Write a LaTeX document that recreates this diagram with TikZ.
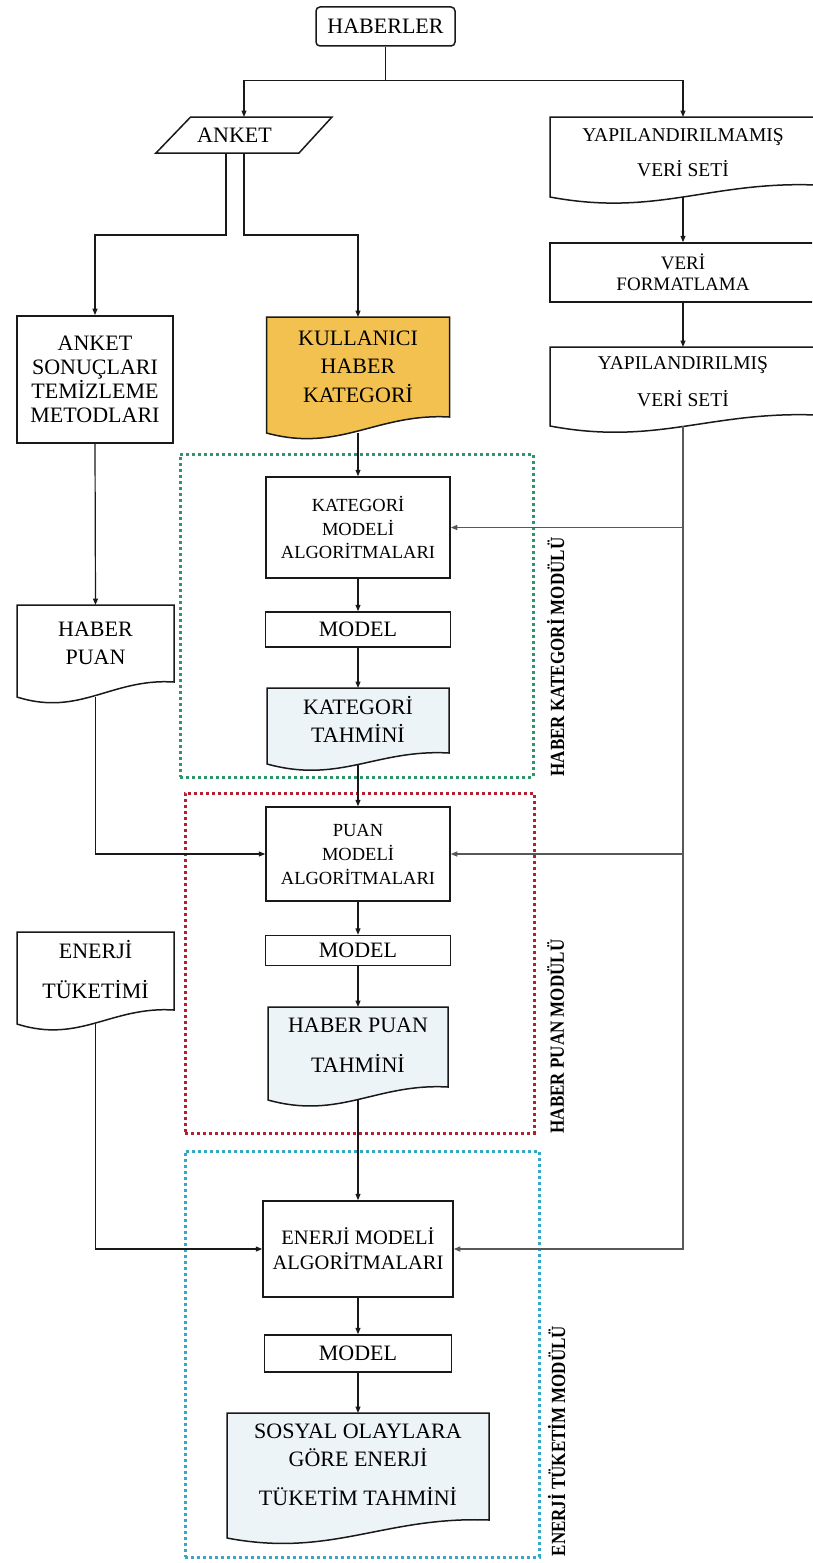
\documentclass[tikz,border=0pt]{standalone}
\usepackage{fontspec}
\setmainfont{Liberation Serif}
\usetikzlibrary{arrows.meta,calc,backgrounds}

\definecolor{kgreen}{RGB}{46,150,104}
\definecolor{kred}{RGB}{183,30,48}
\definecolor{kcyan}{RGB}{52,168,198}
\definecolor{kyellow}{RGB}{242,193,80}
\definecolor{kblue}{RGB}{237,244,248}
\definecolor{kgray}{RGB}{88,88,88}
\definecolor{kink}{RGB}{25,25,25}

\newcommand\setfs[2]{\fontsize{#1pt}{#2pt}\selectfont}
% module titles are set a little taller than the plain font
\newcommand\tallbf[1]{\scalebox{1}[1.18]{\bfseries #1}}

% document shape: flat top, wavy bottom that rises by #3 towards the right
\newcommand\docoutline[3]{%
  \draw[docline, fill=#1] (#2.south west)
    .. controls ($(#2.south west)!0.4!(#2.south east)+(0,20)$)
            and ($(#2.south west)!0.6!(#2.south east)+(0,-#3-4)$)
    .. ($(#2.south east)+(0,-#3)$)
    -- (#2.north east) -- (#2.north west) -- cycle;}

\begin{document}
\begin{tikzpicture}[x=1pt, y=-1pt,
  box/.style={draw=kink, line width=1.5pt, fill=white, inner sep=0pt,
    align=center, font=\setfs{22}{24}},
  plain/.style={draw=none, inner sep=0pt, outer sep=0pt, align=center, font=\setfs{22}{24}},
  doctext/.style={align=center, inner sep=0pt},
  docline/.style={draw=kink, line width=1.5pt},
  conn/.style={draw=kink, line width=1.2pt, -{Triangle[length=6.5pt,width=5pt]}},
  grayconn/.style={draw=kgray, line width=1.4pt, -{Triangle[length=6.5pt,width=5pt]}},
  frame/.style={line width=3pt, dash pattern=on 3pt off 3pt, inner sep=0pt, fill=none},
  modlabel/.style={font=\setfs{17}{17}, rotate=90, anchor=west, inner sep=0pt}]

\useasboundingbox (0,0) rectangle (812,1563);
\clip (0,0) rectangle (812,1563);

% ---- top ----
\node[box, rounded corners=4pt, minimum width=139pt, minimum height=39pt] (haberler) at (385.5,26.5) {HABERLER};
\node[plain, minimum width=176pt, minimum height=36pt] (anket) at (244,135) {\hspace*{-19pt}ANKET};

% ---- right column ----
\node[plain, minimum width=266pt, minimum height=80pt,
  label={[doctext, font=\setfs{19.5}{35}, yshift=4.5pt]center:{YAPILANDIRILMAMIŞ\\VERİ SETİ}}] (yapi1) at (683,157) {};
\node[box, minimum width=266pt, minimum height=59pt, font=\setfs{19}{20.5}] (verifmt) at (683,272.5) {VERİ\\FORMATLAMA};
\node[plain, minimum width=266pt, minimum height=79pt,
  label={[doctext, font=\setfs{19.5}{37}, yshift=5pt]center:{YAPILANDIRILMIŞ\\VERİ SETİ}}] (yapi2) at (683,386.5) {};

% ---- left column ----
\node[box, line width=1.8pt, minimum width=156pt, minimum height=127pt] (anketson) at (95,379.5) {ANKET\\SONUÇLARI\\TEMİZLEME\\METODLARI};
\node[plain, minimum width=157pt, minimum height=92pt,
  label={[doctext, font=\setfs{22}{28}, yshift=8pt]center:{HABER\\PUAN}}] (haberpuan) at (95.5,651) {};
\node[plain, minimum width=157pt, minimum height=92pt,
  label={[doctext, font=\setfs{22}{40}, yshift=8pt]center:{ENERJİ\\TÜKETİMİ}}] (enerjituk) at (95.5,978) {};

% ---- centre column ----
\node[plain, minimum width=183pt, minimum height=116pt,
  label={[doctext, font=\setfs{22}{28.5}, yshift=8.5pt]center:{KULLANICI\\HABER\\KATEGORİ}}] (kullanici) at (358,375) {};
\node[box, minimum width=184pt, minimum height=101pt, font=\setfs{18.5}{23.5}] (katmodel) at (358,527.5) {KATEGORİ\\MODELİ\\ALGORİTMALARI};
\node[box, minimum width=185pt, minimum height=35pt] (model1) at (358,629.5) {MODEL};
\node[plain, minimum width=182pt, minimum height=76pt,
  label={[doctext, font=\setfs{22}{28}, yshift=6.5pt]center:{KATEGORİ\\TAHMİNİ}}] (kattahmin) at (358,726) {};

\node[box, minimum width=184pt, minimum height=94pt, font=\setfs{18.5}{24}] (puanmodel) at (358,854) {PUAN\\MODELİ\\ALGORİTMALARI};
\node[box, minimum width=185pt, minimum height=30pt] (model2) at (358,950.5) {MODEL};
\node[plain, minimum width=180pt, minimum height=93pt,
  label={[doctext, font=\setfs{22}{40}, yshift=8pt]center:{HABER PUAN\\TAHMİNİ}}] (puantahmin) at (358,1053.5) {};

\node[box, minimum width=190pt, minimum height=96pt, font=\setfs{20.5}{25}] (enmodel) at (358,1249) {ENERJİ MODELİ\\ALGORİTMALARI};
\node[box, minimum width=187pt, minimum height=37pt] (model3) at (358,1353.5) {MODEL};
\node[plain, minimum width=262pt, minimum height=125pt,
  label={[doctext, font=\setfs{22}{28}, yshift=11pt]center:{SOSYAL OLAYLARA\\GÖRE ENERJİ\\[11pt]TÜKETİM TAHMİNİ}}] (sosyal) at (358,1475.5) {};

% ---- module frames and their titles ----
\node[frame, draw=kgreen, minimum width=353pt, minimum height=323pt] (katframe) at (356.5,615.5) {};
\node[frame, draw=kred, minimum width=349pt, minimum height=340pt] (puanframe) at (359.5,963) {};
\node[frame, draw=kcyan, minimum width=354pt, minimum height=406pt] (enframe) at (362,1354) {};

\node[modlabel] (katlabel) at ($(katframe.south east)+(21,-2)$) {\tallbf{HABER KATEGORİ MODÜLÜ}};
\node[modlabel] (puanlabel) at ($(puanframe.south east)+(20,-1)$) {\tallbf{HABER PUAN MODÜLÜ}};
\node[modlabel] (enlabel) at ($(enframe.south east)+(16,-2)$) {\tallbf{ENERJİ TÜKETİM MODÜLÜ}};

% ---- outlines of the documents and the input parallelogram ----
\begin{scope}[on background layer]
  \draw[docline, fill=white] ($(anket.north west)+(34.6,0)$) -- (anket.north east)
    -- ($(anket.south east)+(-33,0)$) -- (anket.south west) -- cycle;
  \docoutline{white}{yapi1}{12}
  \docoutline{white}{yapi2}{11}
  \docoutline{white}{haberpuan}{15}
  \docoutline{white}{enerjituk}{14}
  \docoutline{kyellow}{kullanici}{16}
  \docoutline{kblue}{kattahmin}{11}
  \docoutline{kblue}{puantahmin}{13}
  \docoutline{kblue}{sosyal}{18}
\end{scope}

% ---- connectors ----
\draw[conn] (haberler.south) -- ++(0,34) coordinate (split) -| (anket.north);
\draw[conn] (split) -| (yapi1.north);

\draw[conn] ($(anket.south)+(-18,0)$) -- ++(0,82) -| (anketson.north);
\draw[conn] (anket.south) -- ++(0,82) -| (kullanici.north);

\draw[conn] (yapi1.south) -- (verifmt.north);
\draw[conn] (verifmt.south) -- (yapi2.north);

\draw[grayconn] (yapi2.south) |- (enmodel.east);
\draw[grayconn] (yapi2.south |- katmodel.east) -- (katmodel.east);
\draw[grayconn] (yapi2.south |- puanmodel.east) -- (puanmodel.east);

\draw[conn] (anketson.south) -- (haberpuan.north);
\draw[conn] (haberpuan.south) |- (puanmodel.west);
\draw[conn] (enerjituk.south) |- (enmodel.west);

\draw[conn] (kullanici.south) -- (katmodel.north);
\draw[conn] (katmodel.south) -- (model1.north);
\draw[conn] (model1.south) -- (kattahmin.north);
\draw[conn] (kattahmin.south) -- (puanmodel.north);
\draw[conn] (puanmodel.south) -- (model2.north);
\draw[conn] (model2.south) -- (puantahmin.north);
\draw[conn] (puantahmin.south) -- (enmodel.north);
\draw[conn] (enmodel.south) -- (model3.north);
\draw[conn] (model3.south) -- (sosyal.north);

\end{tikzpicture}
\end{document}
